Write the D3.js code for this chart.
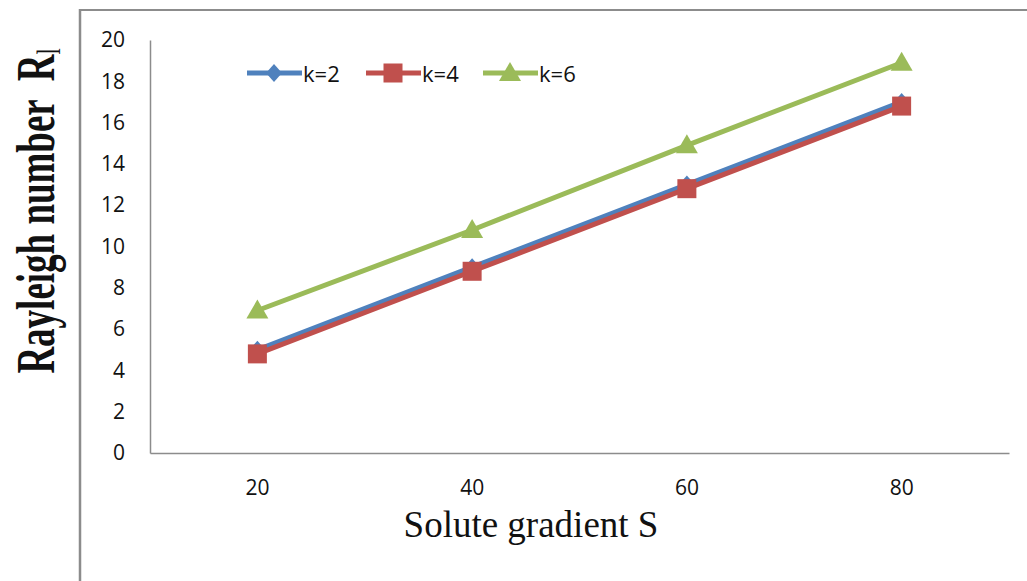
<!DOCTYPE html>
<html><head><meta charset="utf-8">
<script src="https://cdn.jsdelivr.net/npm/d3@7"></script>
<style>body{margin:0;background:#fff}svg{display:block}</style>
</head><body>
<svg id="c" width="1027" height="581"></svg>
<script>
const categories = ["20", "40", "60", "80"];
const seriesNames = ["k=2", "k=4", "k=6"];
const k2 = [5, 9, 13, 17];
const k4 = [4.8, 8.8, 12.8, 16.8];
const k6 = [6.9, 10.8, 14.9, 18.9];
const yTicks = [0, 2, 4, 6, 8, 10, 12, 14, 16, 18, 20];

const series = [
  {name: seriesNames[0], values: k2, color: "#4F81BD", marker: "diamond"},
  {name: seriesNames[1], values: k4, color: "#C0504D", marker: "square"},
  {name: seriesNames[2], values: k6, color: "#9BBB59", marker: "triangle"}
];

const svg = d3.select("#c");
const L = 150, R = 1009, T = 40, B = 453;
const x = d3.scaleBand().domain(categories).range([L, R]);
const y = d3.scaleLinear().domain([0, 20]).range([B, T]);
const tickFont = "Open Sans, sans-serif";

// outer frame
svg.append("line").attr("x1", 80).attr("x2", 80).attr("y1", 9).attr("y2", 581).attr("stroke", "#8c8c8c").attr("stroke-width", 2.5);
svg.append("line").attr("x1", 80).attr("x2", 1027).attr("y1", 10).attr("y2", 10).attr("stroke", "#8c8c8c").attr("stroke-width", 2);

// y axis
const ya = svg.append("g").attr("transform", `translate(${L},0)`)
  .call(d3.axisLeft(y).tickValues(yTicks).tickSize(0).tickPadding(25));
ya.select(".domain").attr("stroke", "#8c8c8c").attr("stroke-width", 1.5);
ya.selectAll("text").attr("font-family", tickFont).attr("font-size", 21).attr("fill", "#111");

// x axis
const xa = svg.append("g").attr("transform", `translate(0,${B})`)
  .call(d3.axisBottom(x).tickSize(0).tickPadding(27));
xa.select(".domain").attr("stroke", "#8c8c8c").attr("stroke-width", 1.5);
xa.selectAll("text").attr("font-family", tickFont).attr("font-size", 21).attr("fill", "#111");

// titles
svg.append("text").attr("x", 531).attr("y", 537).attr("text-anchor", "middle")
  .attr("font-family", "Liberation Serif, Times New Roman, serif").attr("font-size", 37).attr("fill", "#111")
  .text("Solute gradient S");
const yt = svg.append("text").attr("transform", "translate(54,211) rotate(-90) scale(1,1.5)").attr("text-anchor", "middle")
  .attr("font-family", "Liberation Serif, Times New Roman, serif").attr("font-size", 37).attr("font-weight", "bold").attr("fill", "#111");
yt.append("tspan").text("Rayleigh number");
yt.append("tspan").attr("dx", 18).text("R");
yt.append("tspan").attr("font-size", 22).attr("font-weight", "normal").attr("dy", 4).text("l");

const cx = c => x(c) + x.bandwidth() / 2;
function marker(g, type, color, px, py) {
  if (type === "diamond") {
    g.append("path").attr("d", "M0,-9L8,0L0,9L-8,0Z").attr("transform", `translate(${px},${py})`).attr("fill", color);
  } else if (type === "square") {
    g.append("rect").attr("x", px - 9.5).attr("y", py - 9.5).attr("width", 19).attr("height", 19).attr("fill", color);
  } else {
    g.append("path").attr("d", "M0,-11L11,8L-11,8Z").attr("transform", `translate(${px},${py})`).attr("fill", color);
  }
}

const line = d3.line().x((d, i) => cx(categories[i])).y(d => y(d));
series.forEach(s => {
  const g = svg.append("g");
  g.append("path").attr("d", line(s.values)).attr("fill", "none").attr("stroke", s.color).attr("stroke-width", 5);
  s.values.forEach((v, i) => marker(g, s.marker, s.color, cx(categories[i]), y(v)));
});

// legend
const legX = [247, 366, 483];
series.forEach((s, i) => {
  const g = svg.append("g");
  const x0 = legX[i], ly = 73;
  g.append("line").attr("x1", x0).attr("x2", x0 + 55).attr("y1", ly).attr("y2", ly).attr("stroke", s.color).attr("stroke-width", 5);
  marker(g, s.marker, s.color, x0 + 27, ly);
  g.append("text").attr("x", x0 + 56).attr("y", 82).attr("font-family", tickFont).attr("font-size", 22).attr("fill", "#111").text(s.name);
});
</script>
</body></html>
